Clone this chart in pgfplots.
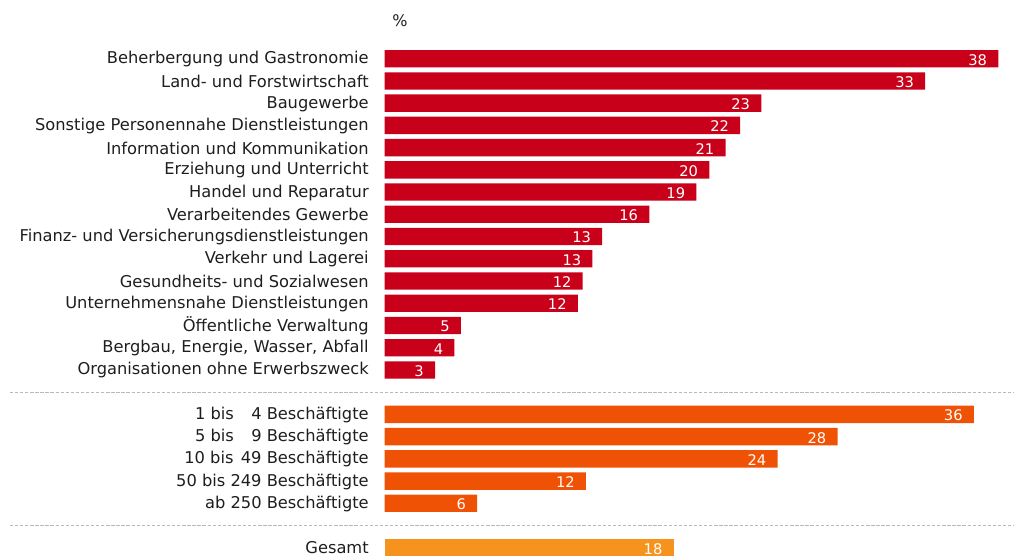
\documentclass[border=0pt]{standalone}
\usepackage{pgfplots}
\pgfplotsset{compat=1.18}
\usepackage{pgfplotstable}
\usepackage{fontspec}
\setmainfont{DejaVu Sans}
\definecolor{cRed}{RGB}{200,0,26}
\definecolor{cOrange}{RGB}{240,82,5}
\definecolor{cGold}{RGB}{246,147,30}
\definecolor{cText}{RGB}{30,30,30}
\definecolor{cDash}{RGB}{185,185,185}

\pgfplotstableread{
y val lab
0 37.8 38
1 33.3 33
2 23.2 23
3 21.9 22
4 21.0 21
5 20.0 20
6 19.2 19
7 16.3 16
8 13.4 13
9 12.8 13
10 12.2 12
11 11.9 12
12 4.7 5
13 4.3 4
14 3.1 3
}\branchen

\pgfplotstableread{
y val lab
16 36.3 36
17 27.9 28
18 24.2 24
19 12.4 12
20 5.7 6
}\groesse

\pgfplotstableread{
y val lab
22 17.8 18
}\gesamt

\begin{document}
\begin{tikzpicture}
\useasboundingbox (0pt,0pt) rectangle (760.5pt,417pt);
\begin{axis}[
  at={(288.525pt,0pt)}, anchor=south west,
  scale only axis, width=471.98pt, height=417pt,
  xmin=0, xmax=38.77, ymin=-2.64, ymax=22.37,
  y dir=reverse,
  axis line style={draw=none},
  xtick=\empty,
  ytick={0,1,2,3,4,5,6,7,8,9,10,11,12,13,14,16,17,18,19,20,22},
  yticklabels={
    Beherbergung und Gastronomie,
    Land- und Forstwirtschaft,
    Baugewerbe,
    Sonstige Personennahe Dienstleistungen,
    Information und Kommunikation,
    Erziehung und Unterricht,
    Handel und Reparatur,
    Verarbeitendes Gewerbe,
    Finanz- und Versicherungsdienstleistungen,
    Verkehr und Lagerei,
    Gesundheits- und Sozialwesen,
    Unternehmensnahe Dienstleistungen,
    Öffentliche Verwaltung,
    {Bergbau, Energie, Wasser, Abfall},
    Organisationen ohne Erwerbszweck,
    {1 bis\hspace{13pt}4 Beschäftigte},
    {5 bis\hspace{13pt}9 Beschäftigte},
    {10 bis\hspace{5.5pt}49 Beschäftigte},
    {50 bis 249 Beschäftigte},
    {ab 250 Beschäftigte},
    {\raisebox{1.2pt}{Gesamt}}},
  major tick length=0pt,
  yticklabel style={anchor=east, inner sep=0pt, xshift=-11.8pt, yshift=-0.4pt,
    font=\fontsize{12.2}{14}\selectfont, text=cText},
  clip=false,
  xbar, bar width=0.78, bar shift=0pt,
  nodes near coords,
  point meta=explicit symbolic,
  nodes near coords style={anchor=east, inner sep=0pt, xshift=-8.25pt, yshift=-0.8pt,
    text=white, font=\fontsize{11}{13}\selectfont},
]
\addplot[fill=cRed, draw=none] table[x=val, y=y, meta=lab] {\branchen};
\addplot[fill=cOrange, draw=none] table[x=val, y=y, meta=lab] {\groesse};
\addplot[fill=cGold, draw=none] table[x=val, y=y, meta=lab] {\gesamt};
\draw[cDash, line width=0.75pt, dash pattern=on 2.5pt off 1.3pt] (axis cs:-23.09,15) -- (axis cs:38.77,15);
\draw[cDash, line width=0.75pt, dash pattern=on 2.5pt off 1.3pt] (axis cs:-23.09,21) -- (axis cs:38.77,21);
\node[text=cText, font=\fontsize{12}{14}\selectfont, inner sep=0pt] at (axis cs:0.94,-1.70) {\%};
\end{axis}
\end{tikzpicture}
\end{document}
